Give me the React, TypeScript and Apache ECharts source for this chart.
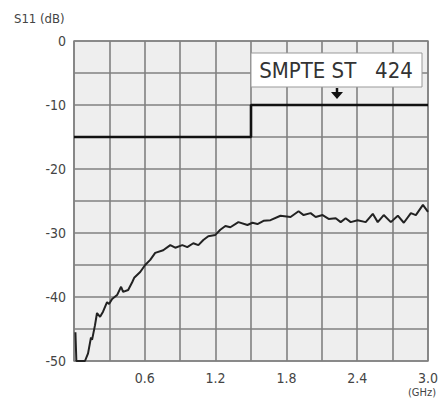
import React, { useEffect, useRef } from "react";
import * as echarts from "echarts";

const freqGHz = [0.012, 0.02, 0.093, 0.119, 0.144, 0.153, 0.178, 0.195, 0.221, 0.246, 0.28, 0.297, 0.323, 0.365, 0.399, 0.416, 0.459, 0.493, 0.51, 0.561, 0.603, 0.646, 0.688, 0.756, 0.816, 0.858, 0.918, 0.96, 1.011, 1.054, 1.096, 1.138, 1.198, 1.24, 1.283, 1.325, 1.393, 1.47, 1.512, 1.555, 1.606, 1.665, 1.75, 1.835, 1.903, 1.946, 2.005, 2.048, 2.107, 2.158, 2.218, 2.26, 2.302, 2.345, 2.404, 2.472, 2.532, 2.574, 2.625, 2.685, 2.744, 2.795, 2.855, 2.897, 2.957, 3.0];
const s11dB = [-45.5, -50, -50, -48.8, -46.3, -46.7, -44.4, -42.5, -43.1, -42.3, -40.8, -41.1, -40.3, -39.7, -38.4, -39.2, -38.9, -37.7, -37.0, -36.1, -35.0, -34.2, -33.1, -32.7, -31.9, -32.3, -31.9, -32.2, -31.6, -31.9, -31.1, -30.5, -30.3, -29.5, -28.9, -29.1, -28.3, -28.75, -28.4, -28.6, -28.1, -28.0, -27.3, -27.5, -26.6, -27.2, -26.9, -27.5, -27.2, -27.8, -27.7, -28.3, -27.7, -28.3, -28.0, -28.3, -27.0, -28.3, -27.2, -28.3, -27.3, -28.4, -26.9, -27.2, -25.6, -26.7];

const limitFreq = [0, 1.5, 1.5, 3.0];
const limitDB = [-15, -15, -10, -10];

const xTickLabels = ["0.6", "1.2", "1.8", "2.4", "3.0"];
const yTickLabels = ["0", "-10", "-20", "-30", "-40", "-50"];

const FONT = "'Liberation Sans Narrow', 'DejaVu Sans Condensed', 'Roboto Condensed', sans-serif";

export default function App() {
  const ref = useRef<HTMLDivElement>(null);
  useEffect(() => {
    if (!ref.current) return;
    const chart = echarts.init(ref.current, null, { renderer: "svg" });
    chart.setOption({
      animation: false,
      backgroundColor: "#ffffff",
      grid: {
        left: 74,
        right: 16,
        top: 41,
        bottom: 39,
        show: true,
        backgroundColor: "#eeeeee",
        borderColor: "#8a8a8a",
        borderWidth: 1.5,
      },
      xAxis: {
        type: "value",
        min: 0,
        max: 3,
        interval: 0.3,
        axisLine: { show: false },
        axisTick: { show: false },
        splitLine: { show: true, lineStyle: { color: "#808080", width: 1.6 } },
        axisLabel: {
          color: "#444",
          fontFamily: FONT,
          fontSize: 14,
          margin: 10,
          showMinLabel: true,
          showMaxLabel: true,
          formatter: (v: number) => {
            const s = v.toFixed(1);
            return xTickLabels.includes(s) ? s : "";
          },
        },
      },
      yAxis: {
        type: "value",
        min: -50,
        max: 0,
        interval: 5,
        axisLine: { show: false },
        axisTick: { show: false },
        splitLine: { show: true, lineStyle: { color: "#808080", width: 1.6 } },
        axisLabel: {
          color: "#444",
          fontFamily: FONT,
          fontSize: 14,
          margin: 8,
          padding: [6, 0, 0, 0],
          formatter: (v: number) => {
            const s = String(Math.round(v));
            return yTickLabels.includes(s) ? s : "";
          },
        },
      },
      series: [
        {
          type: "line",
          data: limitFreq.map((f, i) => [f, limitDB[i]]),
          showSymbol: false,
          lineStyle: { color: "#111", width: 2.6 },
          z: 3,
        },
        {
          type: "line",
          data: freqGHz.map((f, i) => [f, s11dB[i]]),
          showSymbol: false,
          lineStyle: { color: "#222", width: 2 },
          z: 4,
        },
      ],
      graphic: [
        {
          type: "text",
          left: 14,
          top: 12,
          style: { text: "S11 (dB)", fill: "#444", font: `13px ${FONT}` },
        },
        {
          type: "text",
          left: 408,
          top: 387,
          style: { text: "(GHz)", fill: "#444", font: `11px ${FONT}` },
        },
        {
          type: "rect",
          shape: { x: 251, y: 53, width: 171, height: 34 },
          style: { fill: "#ffffff", stroke: "#999", lineWidth: 1 },
          z: 10,
        },
        {
          type: "text",
          x: 336,
          y: 70,
          style: {
            text: "SMPTE ST   424",
            fill: "#333",
            font: `22px ${FONT}`,
            align: "center",
            verticalAlign: "middle",
          },
          z: 11,
        },
        {
          type: "line",
          shape: { x1: 337, y1: 88, x2: 337, y2: 94 },
          style: { stroke: "#111", lineWidth: 2.5 },
          z: 11,
        },
        {
          type: "polygon",
          shape: { points: [[331, 92], [343, 92], [337, 99]] },
          style: { fill: "#111" },
          z: 11,
        },
      ],
    });
    return () => chart.dispose();
  }, []);
  return <div ref={ref} style={{ width: 444, height: 400, position: "absolute", left: 0, top: 0 }} />;
}
